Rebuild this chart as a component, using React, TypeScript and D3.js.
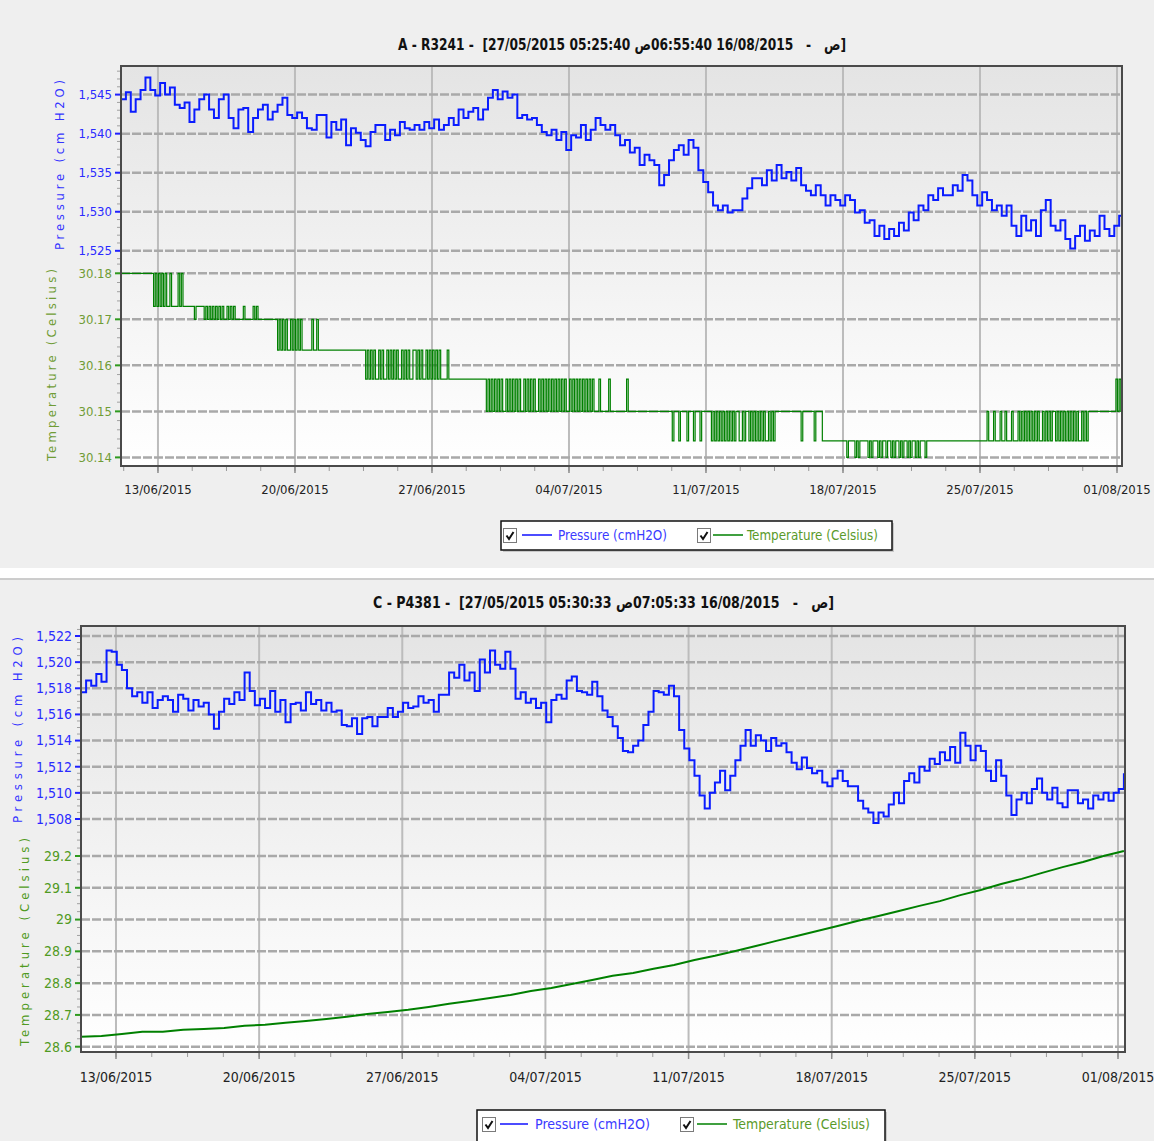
import React, { useEffect, useRef } from 'react';
import * as d3 from 'd3';

const WIDTH = 1154;
const HEIGHT = 1141;
const FONT = '"DejaVu Sans Condensed", "Liberation Sans Narrow", "DejaVu Sans", sans-serif';

const dateTicks = ['13/06/2015', '20/06/2015', '27/06/2015', '04/07/2015', '11/07/2015', '18/07/2015', '25/07/2015', '01/08/2015'];

const pressureTicksA = [1525, 1530, 1535, 1540, 1545];
const tempTicksA = [30.14, 30.15, 30.16, 30.17, 30.18];
const pressureTicksC = [1508, 1510, 1512, 1514, 1516, 1518, 1520, 1522];
const tempTicksC = [28.6, 28.7, 28.8, 28.9, 29, 29.1, 29.2];

// titles, in the visual order the logger software shows them
const titleA = 'A - R3241 -  [27/05/2015 05:25:40 ص06:55:40 16/08/2015   -   ص]';
const titleC = 'C - P4381 -  [27/05/2015 05:30:33 ص07:05:33 16/08/2015   -   ص]';

// A - R3241, pressure (cmH2O), one reading every 6 h from 11/06/2015 02:40
const pressureA = [
  1544.4, 1545.3, 1542.8, 1544.4, 1545.6, 1547.2, 1545.6, 1544.9, 1546.5, 1545.0,
  1545.9, 1543.7, 1543.3, 1544.0, 1541.5, 1543.1, 1544.4, 1545.0, 1543.1, 1542.0,
  1544.4, 1545.0, 1542.0, 1540.7, 1543.1, 1543.3, 1540.2, 1542.0, 1543.1, 1543.7,
  1541.8, 1542.8, 1543.7, 1544.6, 1542.4, 1542.0, 1542.7, 1542.0, 1540.7, 1540.5,
  1542.4, 1542.4, 1539.5, 1541.5, 1540.5, 1541.8, 1538.5, 1540.7, 1540.1, 1539.2,
  1538.4, 1540.2, 1541.1, 1541.1, 1539.2, 1540.5, 1539.8, 1541.5, 1540.7, 1540.5,
  1541.1, 1540.5, 1541.5, 1540.7, 1541.8, 1540.5, 1541.1, 1542.0, 1541.1, 1543.1,
  1542.0, 1542.8, 1543.3, 1541.8, 1543.1, 1544.6, 1545.6, 1544.4, 1545.4, 1544.6,
  1545.0, 1542.0, 1542.4, 1541.8, 1542.0, 1541.1, 1540.2, 1539.8, 1540.5, 1539.2,
  1540.2, 1537.9, 1539.8, 1539.5, 1541.1, 1539.2, 1540.5, 1542.0, 1541.1, 1540.5,
  1541.1, 1539.8, 1538.5, 1539.2, 1537.6, 1538.2, 1536.0, 1537.3, 1536.6, 1536.0,
  1533.4, 1534.7, 1536.6, 1537.9, 1538.5, 1537.3, 1539.2, 1538.2, 1535.3, 1533.8,
  1532.5, 1530.8, 1530.2, 1530.8, 1529.9, 1530.2, 1530.2, 1531.7, 1533.0, 1534.3,
  1534.3, 1533.4, 1535.3, 1534.0, 1536.0, 1534.3, 1535.1, 1534.0, 1535.6, 1533.4,
  1532.7, 1532.1, 1533.4, 1532.1, 1530.8, 1532.1, 1531.5, 1530.8, 1532.1, 1531.5,
  1529.9, 1530.2, 1528.6, 1528.9, 1526.9, 1528.2, 1526.5, 1527.8, 1526.9, 1528.6,
  1527.6, 1529.9, 1528.9, 1530.8, 1530.2, 1532.1, 1531.5, 1533.0, 1532.1, 1532.1,
  1533.4, 1532.7, 1534.7, 1534.0, 1532.1, 1530.8, 1532.5, 1531.5, 1530.2, 1530.8,
  1529.5, 1530.8, 1528.2, 1526.9, 1529.5, 1527.6, 1528.9, 1526.9, 1530.2, 1531.5,
  1528.2, 1527.6, 1528.9, 1526.5, 1525.3, 1526.9, 1528.2, 1526.3, 1527.6, 1526.9,
  1529.5, 1527.8, 1526.9, 1528.2, 1529.5, 1526.9,
];

// A - R3241, temperature levels (Celsius) and the level seen every 2 h, one string per day
const tempLevelsA = [30.18, 30.1728, 30.17, 30.1633, 30.157, 30.15, 30.1436, 30.14];
const tempCodesA = [
  '000000000000', '000000001010', '101011011110', '101111111211', '111212121212',
  '121221212122', '222122222121', '222222222222', '323232332323', '232333333233',
  '233333333333', '333333333333', '333333434343', '443434434343', '434434343443',
  '343434434343', '434344443444', '444444444444', '444444445454', '545454554545',
  '454545545454', '545545454545', '454545454554', '545454545454', '545554555554',
  '555555555545', '555555555555', '555555555555', '556555655556', '555655565555',
  '556565656565', '656565566565', '565656565656', '656565555555', '555555555655',
  '555556555566', '666666666666', '676666767666', '667676667676', '676676766767',
  '667676676766', '676666666666', '666666666666', '666666666666', '666566656665',
  '665666566656', '565656565656', '656565655656', '565656565656', '656565555555',
  '555555555545', '454',
];

// C - P4381, pressure (cmH2O), one reading every 6 h from 11/06/2015 06:56
const pressureC = [
  1517.7, 1518.6, 1518.2, 1519.1, 1518.5, 1520.9, 1520.8, 1519.8, 1519.4, 1518.0,
  1517.4, 1517.7, 1516.9, 1517.7, 1516.5, 1517.1, 1517.4, 1517.1, 1516.2, 1517.5,
  1517.2, 1516.3, 1517.1, 1516.6, 1516.9, 1516.0, 1514.9, 1516.2, 1517.2, 1516.8,
  1517.7, 1517.1, 1519.2, 1517.8, 1516.7, 1517.2, 1516.5, 1517.8, 1516.2, 1517.1,
  1515.4, 1516.8, 1516.9, 1516.3, 1517.7, 1516.8, 1517.1, 1516.3, 1516.9, 1516.2,
  1516.3, 1515.2, 1515.1, 1515.7, 1514.5, 1515.7, 1515.8, 1515.1, 1515.8, 1515.8,
  1516.5, 1515.8, 1516.2, 1516.9, 1516.5, 1516.6, 1517.4, 1516.9, 1517.1, 1516.2,
  1517.5, 1517.5, 1519.2, 1518.8, 1519.8, 1518.6, 1519.2, 1517.8, 1520.2, 1519.2,
  1520.9, 1519.8, 1519.5, 1520.8, 1519.5, 1517.2, 1517.7, 1516.9, 1517.2, 1516.5,
  1516.9, 1515.4, 1517.1, 1517.5, 1517.2, 1518.6, 1518.9, 1517.8, 1517.7, 1517.5,
  1518.5, 1517.4, 1516.3, 1515.8, 1515.1, 1514.2, 1513.2, 1513.1, 1513.6, 1514.0,
  1515.2, 1516.2, 1517.8, 1517.7, 1517.5, 1518.2, 1517.4, 1514.8, 1513.4, 1512.5,
  1511.3, 1509.8, 1508.8, 1510.0, 1510.8, 1511.7, 1510.2, 1511.3, 1512.5, 1513.6,
  1514.8, 1513.6, 1514.4, 1514.0, 1513.2, 1514.2, 1513.6, 1513.8, 1513.1, 1512.3,
  1511.8, 1512.7, 1511.9, 1511.5, 1511.7, 1510.8, 1510.5, 1511.1, 1511.7, 1510.9,
  1510.5, 1510.5, 1509.4, 1508.8, 1508.5, 1507.7, 1508.5, 1508.2, 1509.1, 1510.0,
  1509.2, 1510.9, 1511.5, 1510.8, 1512.0, 1511.7, 1512.6, 1512.2, 1513.1, 1512.5,
  1513.5, 1512.3, 1514.6, 1513.6, 1512.5, 1513.6, 1513.2, 1511.7, 1510.9, 1512.5,
  1511.3, 1509.8, 1508.3, 1509.5, 1510.0, 1509.2, 1510.3, 1511.1, 1510.0, 1509.5,
  1510.4, 1509.2, 1508.9, 1510.2, 1510.2, 1509.2, 1509.5, 1508.8, 1509.8, 1509.5,
  1510.0, 1509.4, 1510.0, 1510.3, 1511.5,
];

// C - P4381, temperature (Celsius), one reading a day from 11/06/2015 06:56
const tempC = [
  28.631, 28.634, 28.640, 28.647, 28.647, 28.653, 28.656, 28.659, 28.666, 28.669,
  28.675, 28.681, 28.687, 28.694, 28.703, 28.709, 28.716, 28.725, 28.735, 28.744,
  28.753, 28.763, 28.775, 28.785, 28.797, 28.810, 28.823, 28.832, 28.845, 28.857,
  28.873, 28.886, 28.901, 28.917, 28.933, 28.948, 28.964, 28.980, 28.996, 29.011,
  29.027, 29.043, 29.058, 29.077, 29.093, 29.112, 29.128, 29.147, 29.165, 29.181,
  29.200, 29.216,
];

const parseDay = d3.timeParse('%d/%m/%Y');

const panels = [
  {
    id: 'a',
    top0: 0,
    bottom0: 568,
    title: titleA, titleX: 398, titleY: 50, titleW: 448,
    left: 121, right: 1122, top: 66, bottom: 466, split: 262,
    start: new Date(2015, 5, 11, 2, 40), end: new Date(2015, 7, 1, 6, 8),
    pressDomain: [1525, 1545], pressRange: [250.8, 94.6],
    tempDomain: [30.14, 30.18], tempRange: [457.4, 273.3],
    pressTicks: pressureTicksA, tempTicks: tempTicksA,
    pressMinor: 1, tempMinor: 0.002,
    pressFmt: d3.format(','), tempFmt: d3.format('.2f'),
    pressure: pressureA,
    temperature: tempCodesA.join('').split('').map(c => tempLevelsA[+c]),
    tempStepHours: 2,
    tickSize: 13, labelRight: 112, dateY: 494, dateSize: 13,
    pressTitle: { x: 64, y: 165, len: 170 },
    tempTitle: { x: 56, y: 365, len: 192 },
    tempLabelColor: '#6f9c35',
    legend: { x: 501, y: 521, w: 391, h: 29, cb1: 503, l1: [522, 552], t1: [558, 109], cb2: 697, l2: [713, 743], t2: [747, 131] },
  },
  {
    id: 'c',
    top0: 580,
    bottom0: 1141,
    title: titleC, titleX: 373, titleY: 608, titleW: 461,
    left: 81, right: 1125, top: 626, bottom: 1052, split: 828,
    start: new Date(2015, 5, 11, 6, 56), end: new Date(2015, 7, 1, 8, 13),
    pressDomain: [1508, 1522], pressRange: [819, 636],
    tempDomain: [28.6, 29.2], tempRange: [1046.7, 856],
    pressTicks: pressureTicksC, tempTicks: tempTicksC,
    pressMinor: 0.5, tempMinor: 0.025,
    pressFmt: d3.format(','), tempFmt: d3.format('.3~g'),
    pressure: pressureC,
    temperature: tempC,
    tempStepHours: 24,
    tickSize: 14, labelRight: 72, dateY: 1082, dateSize: 14,
    pressTitle: { x: 22, y: 730, len: 186 },
    tempTitle: { x: 29, y: 942, len: 208 },
    tempLabelColor: '#4f9a22',
    legend: { x: 477, y: 1110, w: 408, h: 34, cb1: 482, l1: [500, 528], t1: [535, 115], cb2: 680, l2: [697, 727], t2: [733, 137] },
  },
];

function drawCheck(g: any, x: number, y: number) {
  g.append('rect').attr('x', x + 0.5).attr('y', y + 0.5).attr('width', 13).attr('height', 14)
    .attr('fill', '#fff').attr('stroke', '#7a7a7a').attr('stroke-width', 1);
  g.append('path').attr('d', `M${x + 3.5},${y + 7.5} L${x + 6},${y + 11} L${x + 10.5},${y + 4}`)
    .attr('fill', 'none').attr('stroke', '#111').attr('stroke-width', 2);
}

function drawPanel(svg: any, defs: any, p: any) {
  const x = d3.scaleTime().domain([p.start, p.end]).range([p.left, p.right]);
  const yP = d3.scaleLinear().domain(p.pressDomain).range(p.pressRange);
  const yT = d3.scaleLinear().domain(p.tempDomain).range(p.tempRange);
  const g = svg.append('g');

  const grad = defs.append('linearGradient').attr('id', `bg-${p.id}`).attr('x1', 0).attr('x2', 0).attr('y1', 0).attr('y2', 1);
  grad.append('stop').attr('offset', '0%').attr('stop-color', '#e4e4e4');
  grad.append('stop').attr('offset', '100%').attr('stop-color', '#ffffff');
  defs.append('clipPath').attr('id', `clip-${p.id}`).append('rect')
    .attr('x', p.left).attr('y', p.top).attr('width', p.right - p.left).attr('height', p.bottom - p.top);

  // panel background
  g.append('rect').attr('x', 0).attr('y', p.top0).attr('width', WIDTH).attr('height', p.bottom0 - p.top0).attr('fill', '#efefef');

  // title: kept in visual order, bidi reordering switched off
  g.append('text').attr('x', p.titleX).attr('y', p.titleY)
    .attr('textLength', p.titleW).attr('lengthAdjust', 'spacingAndGlyphs')
    .attr('direction', 'ltr').attr('unicode-bidi', 'bidi-override')
    .style('unicode-bidi', 'bidi-override').style('direction', 'ltr').style('white-space', 'pre')
    .attr('font-family', FONT).attr('font-weight', 'bold').attr('font-size', 16).attr('fill', '#111')
    .text(p.title);

  // plot area
  g.append('rect').attr('x', p.left).attr('y', p.top).attr('width', p.right - p.left).attr('height', p.bottom - p.top)
    .attr('fill', `url(#bg-${p.id})`);

  const days = dateTicks.map(d => parseDay(d) as Date);
  const grid = g.append('g');
  grid.selectAll('line.v').data(days).join('line').attr('class', 'v')
    .attr('x1', (d: Date) => x(d)).attr('x2', (d: Date) => x(d)).attr('y1', p.top).attr('y2', p.bottom)
    .attr('stroke', '#bcbcbc').attr('stroke-width', 2);
  const hLines = [...p.pressTicks.map((v: number) => yP(v)), ...p.tempTicks.map((v: number) => yT(v))];
  grid.selectAll('line.h').data(hLines).join('line').attr('class', 'h')
    .attr('x1', p.left).attr('x2', p.right).attr('y1', (d: number) => d).attr('y2', (d: number) => d)
    .attr('stroke', '#a9a9a9').attr('stroke-width', 2.5).attr('stroke-dasharray', '9 2');

  // series
  const series = g.append('g').attr('clip-path', `url(#clip-${p.id})`);
  const pLine = d3.line<[Date, number]>().x(d => x(d[0])).y(d => yP(d[1])).curve(d3.curveStepAfter);
  const pData: [Date, number][] = p.pressure.map((v: number, i: number) => [d3.timeHour.offset(p.start, 6 * i), v]);
  series.append('path').attr('d', pLine(pData)).attr('fill', 'none').attr('stroke', '#0a1cff').attr('stroke-width', 2);

  const tLine = d3.line<[Date, number]>().x(d => x(d[0])).y(d => yT(d[1]))
    .curve(p.tempStepHours < 24 ? d3.curveStepAfter : d3.curveLinear);
  const tData: [Date, number][] = p.temperature.map((v: number, i: number) => [d3.timeHour.offset(p.start, p.tempStepHours * i), v]);
  series.append('path').attr('d', tLine(tData)).attr('fill', 'none').attr('stroke', '#008000')
    .attr('stroke-width', p.tempStepHours < 24 ? 1.2 : 2);

  // frame
  g.append('rect').attr('x', p.left).attr('y', p.top).attr('width', p.right - p.left).attr('height', p.bottom - p.top)
    .attr('fill', 'none').attr('stroke', '#4a4a4a').attr('stroke-width', 2);

  // left axis: minor ticks
  const pLo = yP.invert(p.split), pHi = yP.invert(p.top);
  const tLo = yT.invert(p.bottom), tHi = yT.invert(p.split);
  const pMinor = d3.range(Math.ceil(pLo / p.pressMinor) * p.pressMinor, pHi, p.pressMinor);
  const tMinor = d3.range(Math.ceil(tLo / p.tempMinor) * p.tempMinor, tHi, p.tempMinor);
  const minorY = [...pMinor.map((v: number) => yP(v)), ...tMinor.map((v: number) => yT(v))];
  g.selectAll('line.ym').data(minorY).join('line').attr('class', 'ym')
    .attr('x1', p.left - 4).attr('x2', p.left - 1).attr('y1', (d: number) => d).attr('y2', (d: number) => d)
    .attr('stroke', '#a0a0a0').attr('stroke-width', 1);

  // left axis: major ticks + labels
  const axisG = g.append('g').attr('font-family', FONT).attr('font-size', p.tickSize);
  p.pressTicks.forEach((v: number) => {
    axisG.append('line').attr('x1', p.left - 6).attr('x2', p.left - 1).attr('y1', yP(v)).attr('y2', yP(v))
      .attr('stroke', '#2020ff').attr('stroke-width', 2);
    axisG.append('text').attr('x', p.labelRight).attr('y', yP(v)).attr('dy', '0.35em').attr('text-anchor', 'end')
      .attr('fill', '#2a2aff').text(p.pressFmt(v));
  });
  p.tempTicks.forEach((v: number) => {
    axisG.append('line').attr('x1', p.left - 6).attr('x2', p.left - 1).attr('y1', yT(v)).attr('y2', yT(v))
      .attr('stroke', '#2e9a1e').attr('stroke-width', 2);
    axisG.append('text').attr('x', p.labelRight).attr('y', yT(v)).attr('dy', '0.35em').attr('text-anchor', 'end')
      .attr('fill', p.tempLabelColor).text(p.tempFmt(v));
  });

  // axis titles
  g.append('text').attr('transform', `translate(${p.pressTitle.x},${p.pressTitle.y}) rotate(-90)`)
    .attr('text-anchor', 'middle').attr('font-family', FONT).attr('font-size', 13).attr('fill', '#3434ff')
    .attr('textLength', p.pressTitle.len).attr('lengthAdjust', 'spacing').text('Pressure (cm H2O)');
  g.append('text').attr('transform', `translate(${p.tempTitle.x},${p.tempTitle.y}) rotate(-90)`)
    .attr('text-anchor', 'middle').attr('font-family', FONT).attr('font-size', 13).attr('fill', p.tempLabelColor)
    .attr('textLength', p.tempTitle.len).attr('lengthAdjust', 'spacing').text('Temperature (Celsius)');

  // bottom axis
  const minorDays = d3.range(-1, 29).map(k => d3.timeHour.offset(days[0], 42 * k)).filter(d => d >= p.start && d <= p.end);
  g.selectAll('line.xm').data(minorDays).join('line').attr('class', 'xm')
    .attr('x1', (d: Date) => x(d)).attr('x2', (d: Date) => x(d)).attr('y1', p.bottom + 1).attr('y2', p.bottom + 5)
    .attr('stroke', '#9a9a9a').attr('stroke-width', 1);
  g.selectAll('line.xM').data(days).join('line').attr('class', 'xM')
    .attr('x1', (d: Date) => x(d)).attr('x2', (d: Date) => x(d)).attr('y1', p.bottom + 1).attr('y2', p.bottom + 7)
    .attr('stroke', '#8a8a8a').attr('stroke-width', 1.5);
  g.selectAll('text.xl').data(dateTicks).join('text').attr('class', 'xl')
    .attr('x', (d: string) => x(parseDay(d) as Date)).attr('y', p.dateY).attr('text-anchor', 'middle')
    .attr('font-family', FONT).attr('font-size', p.dateSize).attr('fill', '#222').text((d: string) => d);

  // legend
  const L = p.legend;
  const lg = g.append('g');
  lg.append('rect').attr('x', L.x + 2).attr('y', L.y + 2).attr('width', L.w).attr('height', L.h).attr('fill', '#c8c8c8');
  lg.append('rect').attr('x', L.x).attr('y', L.y).attr('width', L.w).attr('height', L.h)
    .attr('fill', '#fff').attr('stroke', '#111').attr('stroke-width', 1.5);
  const cy = L.y + 14;
  drawCheck(lg, L.cb1, cy - 7);
  drawCheck(lg, L.cb2, cy - 7);
  lg.append('line').attr('x1', L.l1[0]).attr('x2', L.l1[1]).attr('y1', cy).attr('y2', cy).attr('stroke', '#1010ff').attr('stroke-width', 1.5);
  lg.append('line').attr('x1', L.l2[0]).attr('x2', L.l2[1]).attr('y1', cy).attr('y2', cy).attr('stroke', '#008000').attr('stroke-width', 1.5);
  lg.append('text').attr('x', L.t1[0]).attr('y', cy).attr('dy', '0.35em').attr('textLength', L.t1[1]).attr('lengthAdjust', 'spacingAndGlyphs')
    .attr('font-family', FONT).attr('font-size', 14).attr('fill', '#3a3aff').text('Pressure (cmH2O)');
  lg.append('text').attr('x', L.t2[0]).attr('y', cy).attr('dy', '0.35em').attr('textLength', L.t2[1]).attr('lengthAdjust', 'spacingAndGlyphs')
    .attr('font-family', FONT).attr('font-size', 14).attr('fill', '#5a9a2a').text('Temperature (Celsius)');
}

const App = () => {
  const ref = useRef<SVGSVGElement>(null);

  useEffect(() => {
    const svg = d3.select(ref.current);
    svg.selectAll('*').remove();
    svg.append('rect').attr('width', WIDTH).attr('height', HEIGHT).attr('fill', '#ffffff');
    const defs = svg.append('defs');
    panels.forEach(p => drawPanel(svg, defs, p));
    svg.append('line').attr('x1', 0).attr('x2', WIDTH).attr('y1', 579).attr('y2', 579).attr('stroke', '#9a9a9a').attr('stroke-width', 1);
  }, []);

  return (
    <svg ref={ref} width={WIDTH} height={HEIGHT}
      style={{ position: 'absolute', left: 0, top: 0, display: 'block' }} />
  );
};

export default App;
